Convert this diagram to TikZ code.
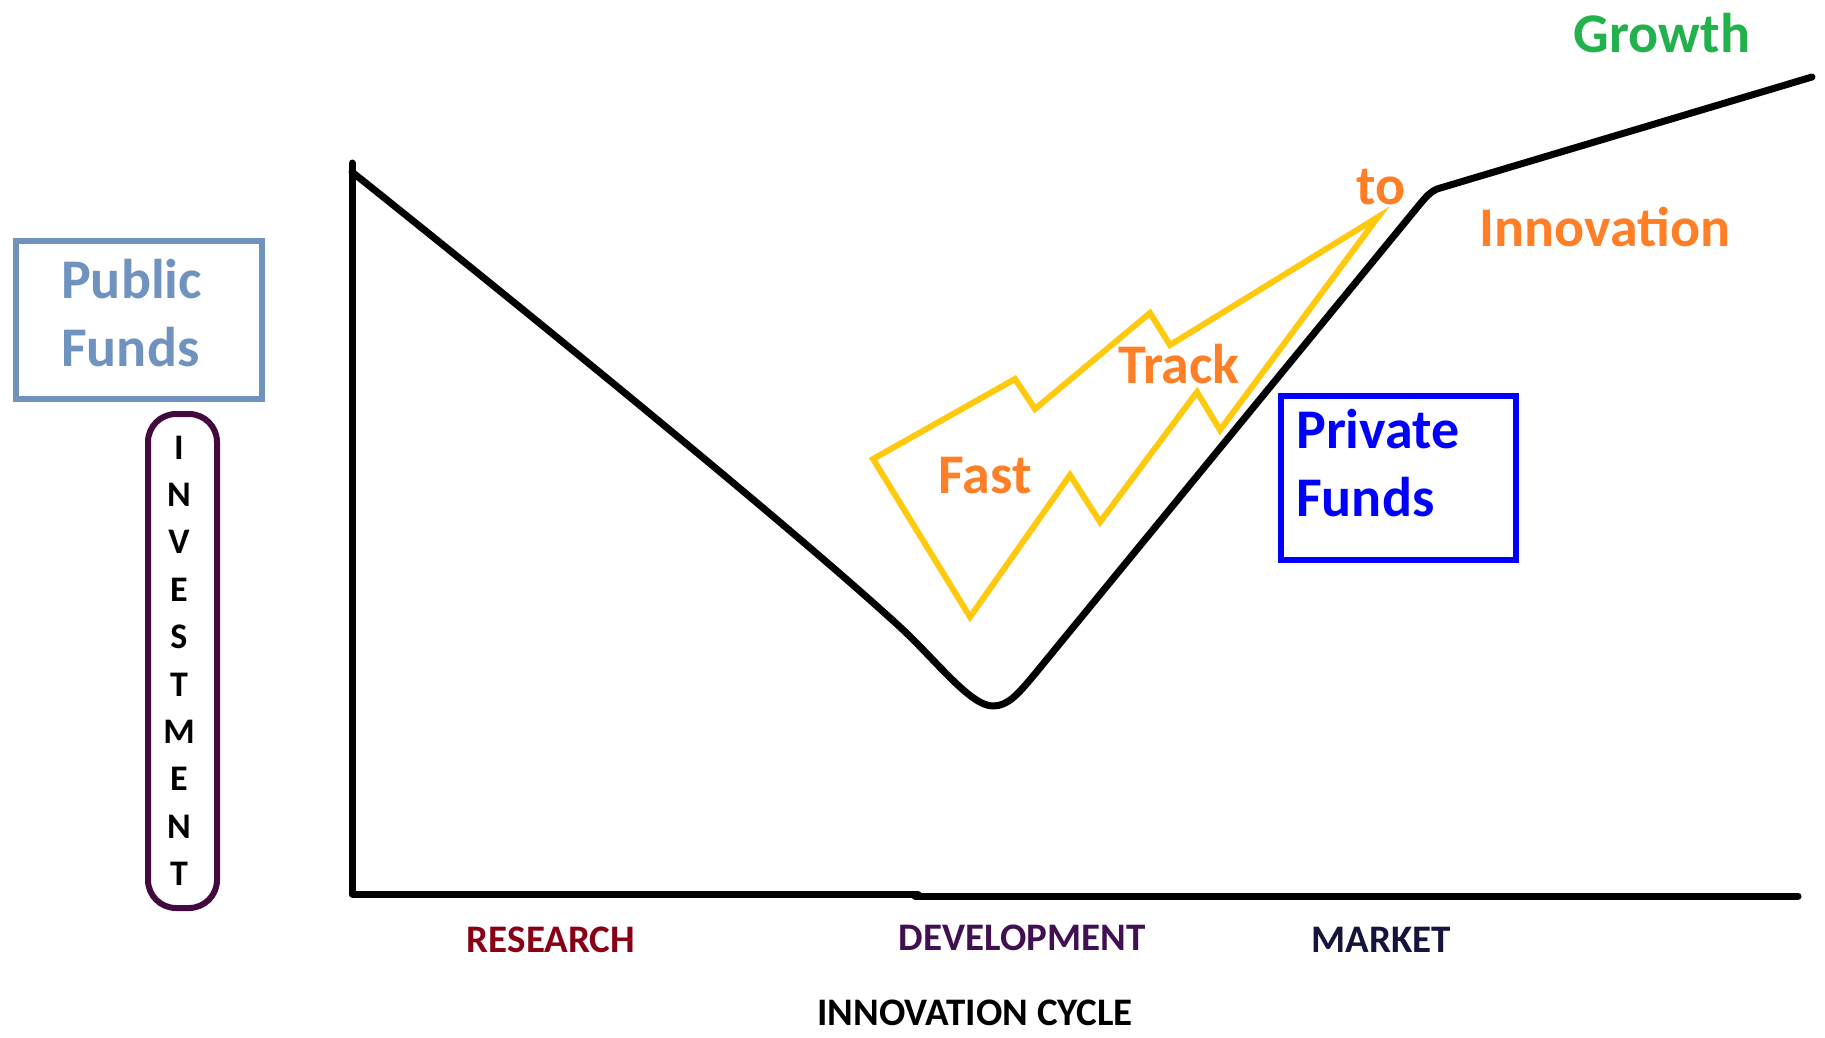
\documentclass[tikz,border=0pt]{standalone}
\usepackage{fontspec}
\setmainfont{Carlito}
\definecolor{orng}{HTML}{FF7F27}
\definecolor{ylw}{HTML}{FFC90E}
\definecolor{grn}{HTML}{22B14C}
\definecolor{pubblue}{HTML}{7092BE}
\definecolor{privblue}{HTML}{0000FF}
\definecolor{invpurple}{HTML}{420A3E}
\definecolor{resred}{HTML}{880015}
\definecolor{devpurple}{HTML}{401050}
\definecolor{mktnavy}{HTML}{14143C}
\begin{document}
\begin{tikzpicture}[x=1pt,y=-1pt,
  big/.style={font=\fontsize{56pt}{68pt}\selectfont\bfseries, inner sep=0pt, anchor=base},
  bigleft/.style={font=\fontsize{56pt}{68pt}\selectfont\bfseries, inner sep=0pt, anchor=base west},
  axislbl/.style={font=\fontsize{39pt}{44pt}\selectfont\bfseries, inner sep=0pt, anchor=base},
  invletter/.style={font=\fontsize{36pt}{40pt}\selectfont\bfseries, inner sep=0pt, anchor=base},
  thick line/.style={line width=7pt, line cap=round, line join=round},
  boxline/.style={line width=6pt}]
\useasboundingbox (0,0) rectangle (1825,1038);

% axes
\coordinate (O) at (352,894);
\coordinate (Ytop) at (352,163);
\coordinate (Xstep1) at (918,894);
\coordinate (Xstep2) at (918,896);
\coordinate (Xend) at (1798,896);
\draw[thick line] (Ytop) -- (O) -- (Xstep1);
\draw[thick line] ([xshift=-3pt]Xstep2) -- (Xend);

% innovation curve
\coordinate (C0) at (352,172);
\coordinate (Cbot) at (993,706);
\coordinate (Ccorner) at (1437,189);
\coordinate (Cend) at (1812,77);
\draw[thick line] (C0) .. controls (550,330) and (800,535) .. (900,627)
  .. controls (935,659) and (970,706) .. (Cbot)
  .. controls (1008,706) and (1018,694) .. (1034,675)
  -- (1420,204) .. controls (1426,197) and (1430,192) .. (Ccorner)
  -- (Cend);

% lightning bolt
\draw[ylw, line width=6pt, line join=miter]
  (873,459) -- (1015,379) -- (1035,409) -- (1150,313) -- (1170,345)
  -- (1378,217) -- (1220,430) -- (1197,392) -- (1100,522) -- (1070,475)
  -- (970,617) -- cycle;

% orange and green labels
\node[big, text=orng] (fast) at (985,493) {Fast};
\node[big, text=orng] (track) at (1179,383) {Track};
\node[big, text=orng] (to) at (1381,204) {to};
\node[big, text=orng] (innov) at (1605,246) {Innovation};
\node[big, text=grn] (growth) at (1662,53) {Growth};

% private funds
\draw[privblue, boxline] (1281,396) rectangle (1516,560);
\node[bigleft, text=privblue] (priv1) at (1296,448) {Private};
\node[bigleft, text=privblue] (priv2) at (1296,516) {Funds};

% public funds
\draw[pubblue, boxline] (16,241) rectangle (262,399);
\node[bigleft, text=pubblue] (pub1) at (61,298) {Public};
\node[bigleft, text=pubblue] (pub2) at (61,366) {Funds};

% investment
\draw[invpurple, boxline, rounded corners=28pt] (148,414) rectangle (217,908);
\foreach \L [count=\i from 0] in {I,N,V,E,S,T,M,E,N,T}{
  \node[invletter] (inv\i) at (179,459+47.4*\i) {\L};
}

% axis labels
\node[axislbl, text=resred] (research) at (551,952) {RESEARCH};
\node[axislbl, text=devpurple] (develop) at (1022,950) {DEVELOPMENT};
\node[axislbl, text=mktnavy] (market) at (1381,952) {MARKET};
\node[axislbl, text=black] (cycle) at (975,1025) {INNOVATION CYCLE};
\end{tikzpicture}
\end{document}
